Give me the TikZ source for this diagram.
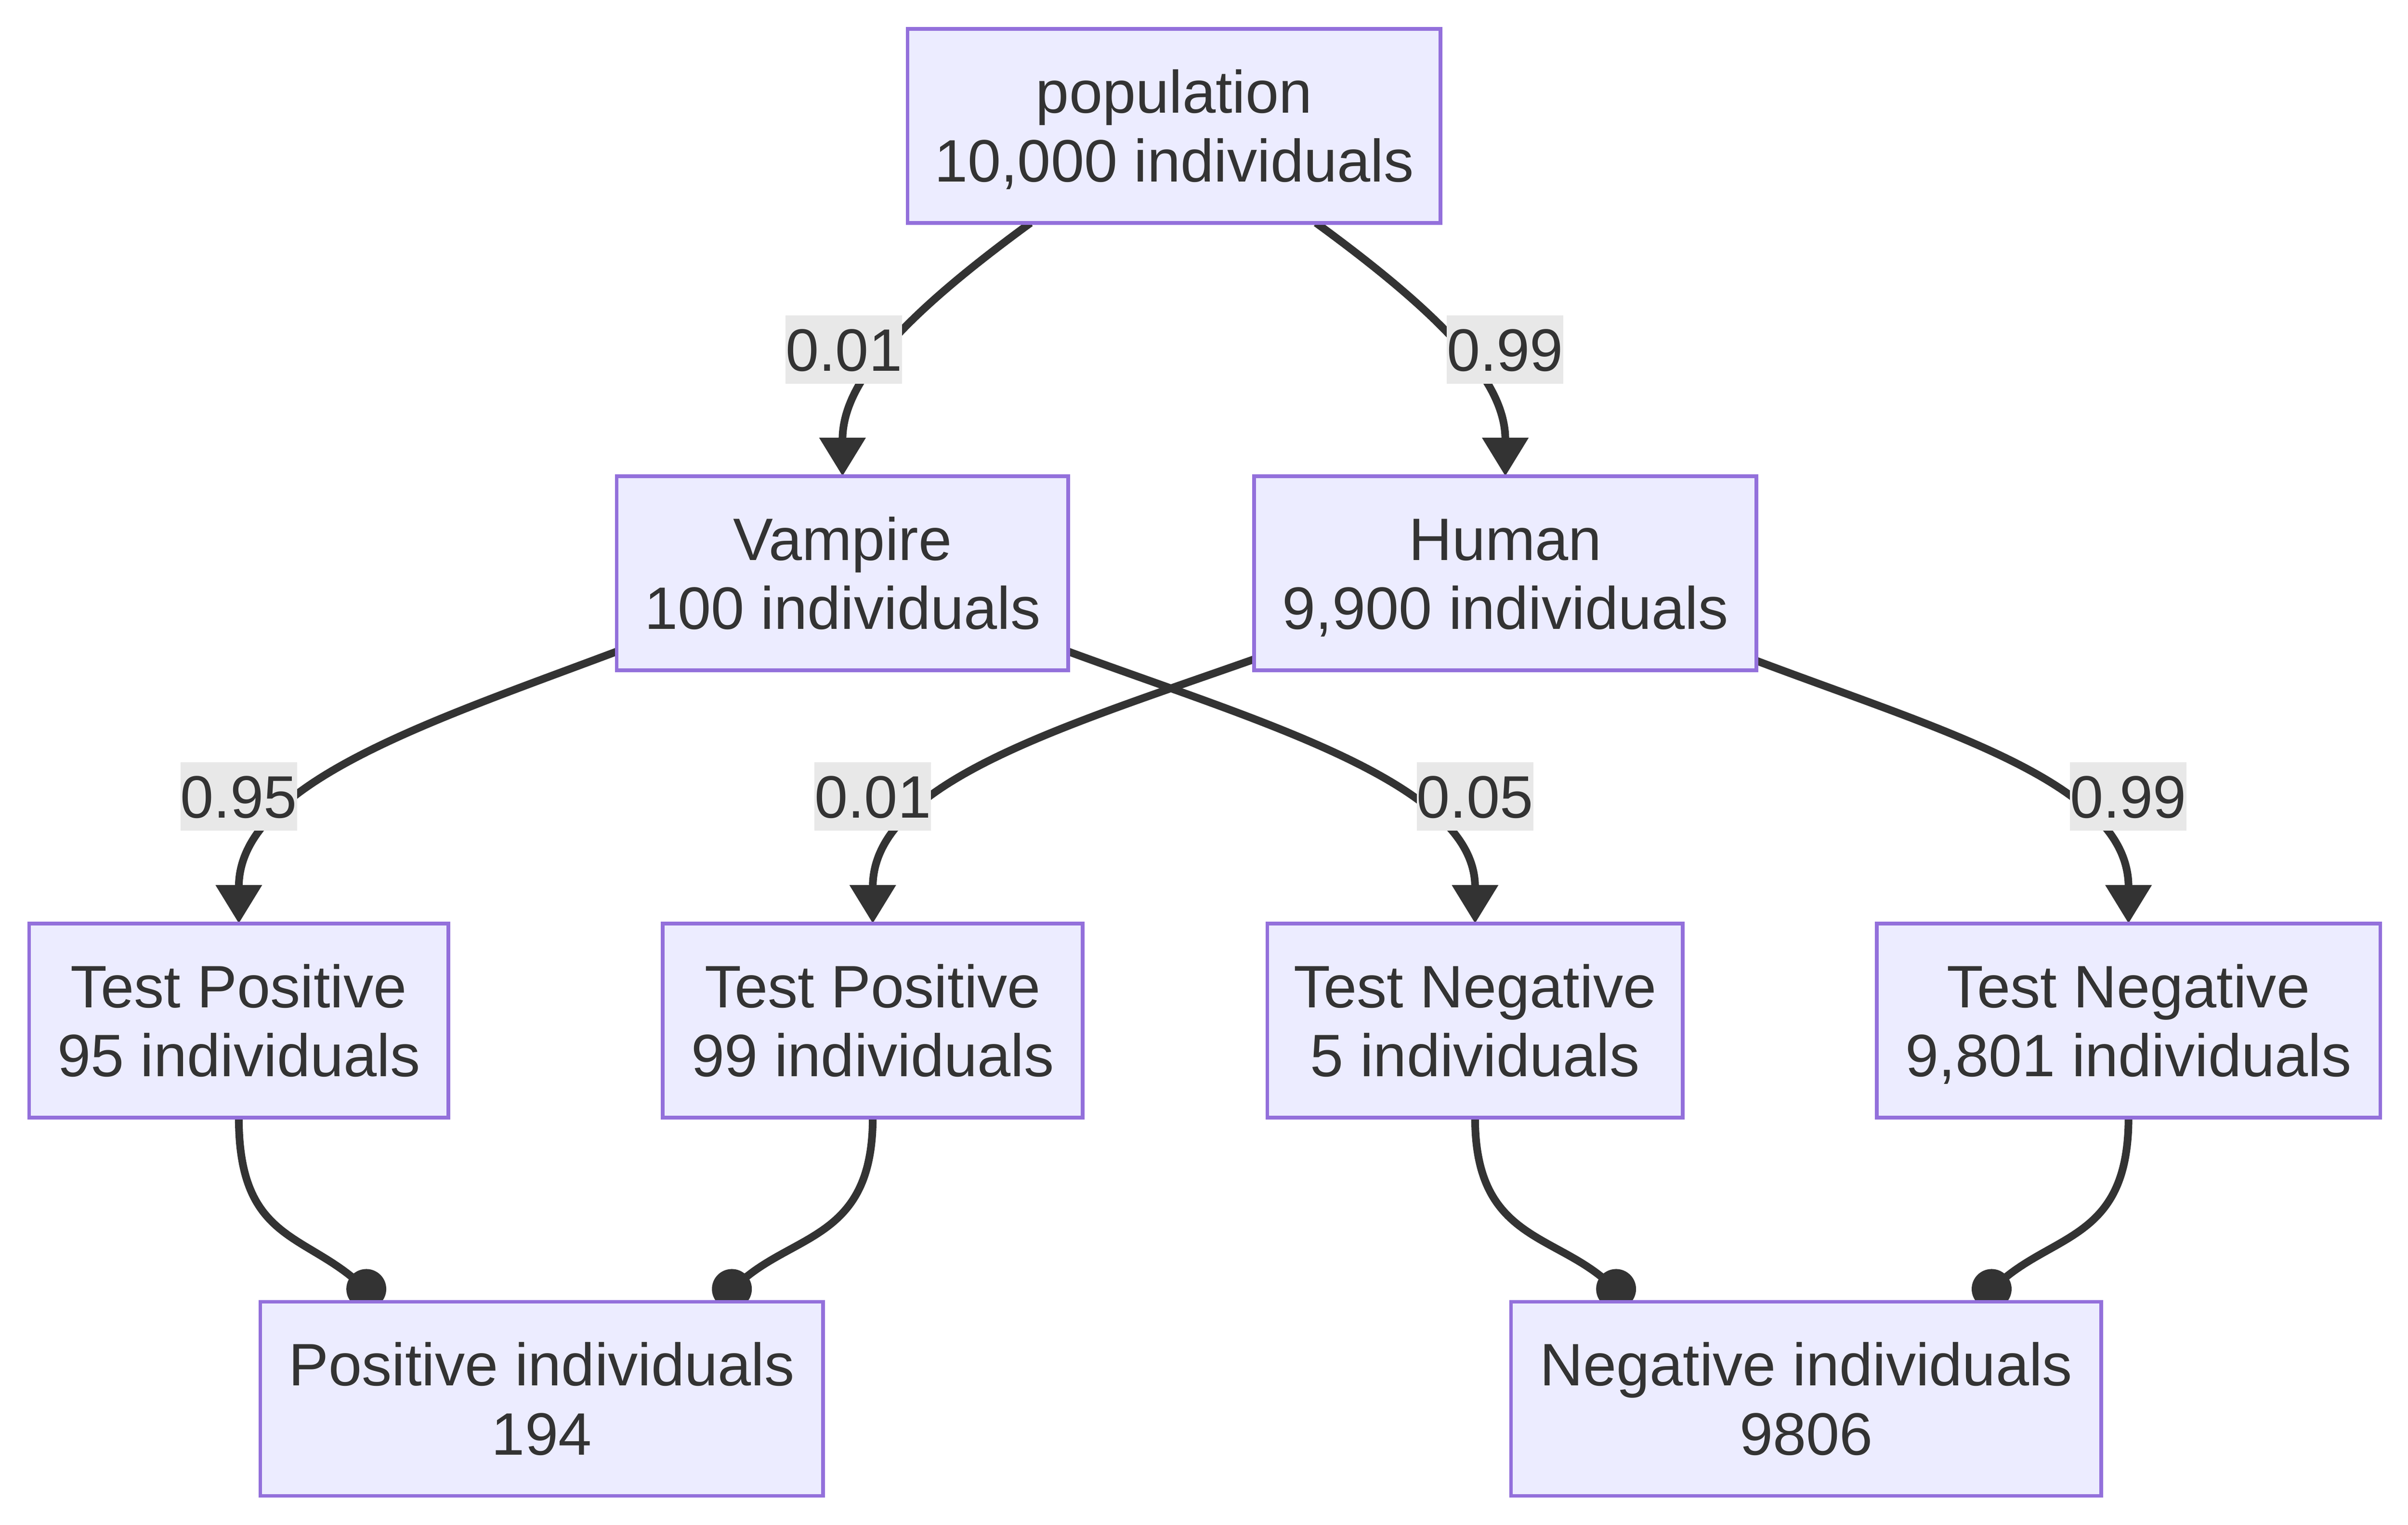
\documentclass[tikz,border=0pt]{standalone}
\usepackage{fontspec}
\setmainfont{Liberation Sans}
\usetikzlibrary{arrows.meta}
\definecolor{boxfill}{HTML}{ECECFF}
\definecolor{boxline}{HTML}{9370DB}
\definecolor{ink}{HTML}{333333}
\definecolor{labfill}{HTML}{E8E8E8}
\newcommand\twoline[2]{\makebox[0pt]{\raisebox{8.5pt}{#1}}\makebox[0pt]{\raisebox{-36.5pt}{#2}}}
\pgfdeclarelayer{bg}
\pgfsetlayers{bg,main}
\tikzset{
  box/.style={draw=boxline, fill=boxfill, line width=2.4pt, rectangle, inner sep=0pt, outer sep=0pt,
    minimum height=126.4pt, text height=0pt, text depth=0pt, text=ink,
    font=\fontsize{39pt}{45pt}\selectfont},
  lab/.style={fill=labfill, inner sep=0pt, outer sep=0pt, minimum height=44.5pt,
    text height=28pt, text depth=0pt, text=ink, font=\fontsize{39pt}{45pt}\selectfont},
  edgeline/.style={draw=ink, line width=5pt},
  arr/.style={edgeline, -{Triangle[width=29pt,length=25pt]}},
  dotend/.style={edgeline, -{Circle[length=26pt]}}
}
\begin{document}
\begin{tikzpicture}[x=1pt,y=-1pt]
\useasboundingbox (0,0) rectangle (1568,993);
% nodes
\node[box, minimum width=347pt]   (pop)   at (764.5,82)   {\twoline{population}{10,000 individuals}};
\node[box, minimum width=294pt]   (vamp)  at (548.6,373.3) {\twoline{Vampire}{100 individuals}};
\node[box, minimum width=327pt]   (human) at (980.2,373.3) {\twoline{Human}{9,900 individuals}};
\node[box, minimum width=273pt]   (tp1)   at (155.5,664.6) {\twoline{Test Positive}{95 individuals}};
\node[box, minimum width=273.4pt] (tp2)   at (568.3,664.6) {\twoline{Test Positive}{99 individuals}};
\node[box, minimum width=270.5pt] (tn1)   at (960.5,664.6) {\twoline{Test Negative}{5 individuals}};
\node[box, minimum width=328pt]   (tn2)   at (1386,664.6)  {\twoline{Test Negative}{9,801 individuals}};
\node[box, minimum width=366.4pt] (pos)   at (352.7,911)   {\twoline{Positive individuals}{194}};
\node[box, minimum width=384.4pt] (neg)   at (1176.1,911)  {\twoline{Negative individuals}{9806}};
% edges
\begin{pgfonlayer}{bg}
\fill[white] (0,0) rectangle (1568,993);
\draw[arr] ([xshift=-93.5pt]pop.south) .. controls (585,208) and (548.6,250) .. (vamp.north);
\draw[arr] ([xshift=92.5pt]pop.south) .. controls (943,208) and (980.2,250) .. (human.north);
\draw[arr] ([yshift=-51pt]vamp.west) .. controls (280,470) and (155.5,510) .. (tp1.north);
\draw[arr] ([yshift=-51pt]vamp.east) .. controls (820,470) and (960.5,510) .. (tn1.north);
\draw[arr] ([yshift=-56pt]human.west) .. controls (690,474) and (568.3,510) .. (tp2.north);
\draw[arr] ([yshift=-57pt]human.east) .. controls (1265,476) and (1386,510) .. (tn2.north);
\draw[dotend] (tp1.south) .. controls (155.5,805) and (194.9,803) .. ([xshift=-104.2pt]pos.north);
\draw[dotend] (tp2.south) .. controls (568.3,805) and (520.2,803) .. ([xshift=113.9pt]pos.north);
\draw[dotend] (tn1.south) .. controls (960.5,805) and (1008.7,803) .. ([xshift=-113.8pt]neg.north);
\draw[dotend] (tn2.south) .. controls (1386,805) and (1340.5,803) .. ([xshift=110.8pt]neg.north);
\end{pgfonlayer}
% edge labels
\node[lab] (l1) at (549.5,227.6) {0.01};
\node[lab] (l2) at (980,227.6)   {0.99};
\node[lab] (l3) at (155.5,518.7) {0.95};
\node[lab] (l4) at (568.3,518.7) {0.01};
\node[lab] (l5) at (960.4,518.7) {0.05};
\node[lab] (l6) at (1385.8,518.7) {0.99};
\end{tikzpicture}
\end{document}
